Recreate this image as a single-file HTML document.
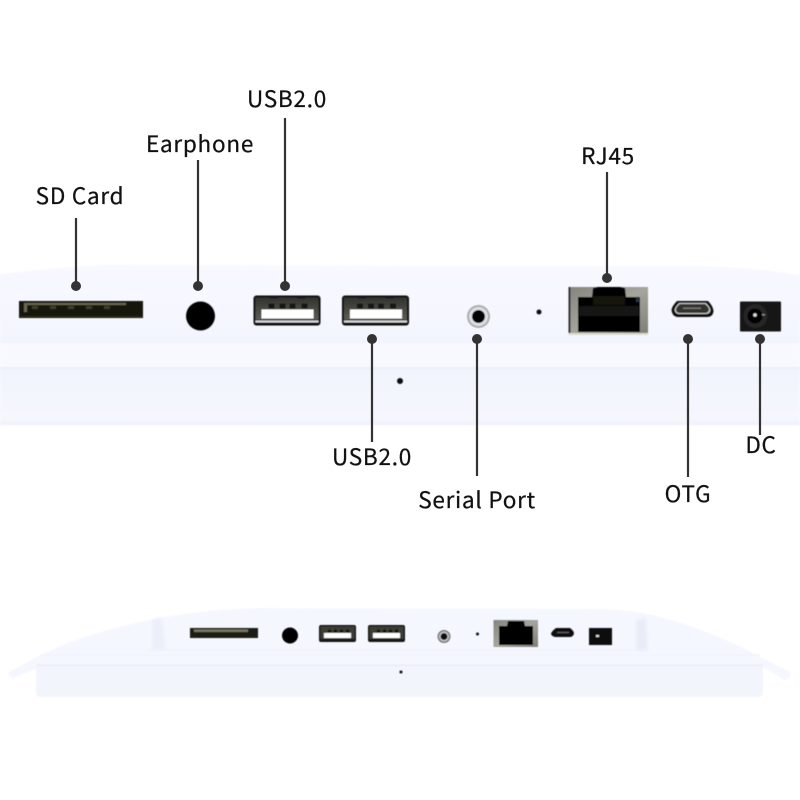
<!DOCTYPE html>
<html><head><meta charset="utf-8"><style>
html,body{margin:0;padding:0;background:#fff}
svg{display:block}
text{font-family:"Noto Sans CJK SC","Liberation Sans",sans-serif;font-size:22.500px;fill:#111;stroke:#111;stroke-width:.25px;text-anchor:middle;letter-spacing:.75px}
</style></head><body>
<svg width="800" height="800" viewBox="0 0 800 800" xmlns="http://www.w3.org/2000/svg">
<defs>
<filter id="s" x="-5%" y="-5%" width="110%" height="110%"><feGaussianBlur stdDeviation=".45"/></filter>
<filter id="s2" x="-10%" y="-10%" width="120%" height="120%"><feGaussianBlur stdDeviation="1.500"/></filter>
<linearGradient id="a" x1="0" y1="0" x2="0" y2="1"><stop offset="0" stop-color="#f8f9ff"/><stop offset="1" stop-color="#f3f5fe"/></linearGradient>
<linearGradient id="b" x1="0" y1="0" x2="0" y2="1"><stop offset="0" stop-color="#f1f4fc"/><stop offset=".88" stop-color="#f5f7fe"/><stop offset="1" stop-color="#eff2fb"/></linearGradient>
<linearGradient id="u" x1="0" y1="0" x2="0" y2="1"><stop offset="0" stop-color="#33332e"/><stop offset="1" stop-color="#5c5c55"/></linearGradient>
<linearGradient id="m" x1="0" y1="0" x2="1" y2="1"><stop offset="0" stop-color="#85857d"/><stop offset=".5" stop-color="#a5a59d"/><stop offset="1" stop-color="#7d7d75"/></linearGradient>
<g id="usb"><rect x="0" y="0" width="67" height="30" rx="3" fill="#111"/><rect x="2" y="2" width="63" height="22" fill="url(#u)"/><rect x="8" y="14" width="52" height="9" fill="#fff"/><g fill="#161614"><rect x="15" y="8" width="6" height="5"/><rect x="26" y="8" width="6" height="5"/><rect x="36" y="8" width="6" height="5"/><rect x="48" y="8" width="6" height="5"/><rect x="16" y="1" width="8" height="2"/><rect x="44" y="1" width="8" height="2"/></g><rect x="2" y="25" width="63" height="2" fill="#d8d8d8"/></g>
<g id="usbs"><rect x="0" y="0" width="37" height="17" rx="2" fill="#181816"/><rect x="1.500" y="1.500" width="34" height="12.500" fill="#3c3c36"/><rect x="5" y="8" width="27" height="5" fill="#fff"/><g fill="#111"><rect x="9" y="4.500" width="3" height="3"/><rect x="15" y="4.500" width="3" height="3"/><rect x="21" y="4.500" width="3" height="3"/><rect x="27" y="4.500" width="3" height="3"/></g></g>
</defs>
<rect width="800" height="800" fill="#fff"/>

<!-- top panel -->
<g filter="url(#s)">
<path d="M0 274 Q50 268 100 265 L700 266 Q760 268 800 275 L800 342 L0 342Z" fill="url(#a)"/>
<rect x="0" y="342" width="800" height="26" fill="#f8f9ff"/>
<rect x="0" y="342" width="800" height="1" fill="#f0f2fa"/>
<rect x="0" y="367" width="800" height="2" fill="#eceff8"/>
<rect x="0" y="369" width="800" height="56" fill="url(#b)"/>
</g>

<g filter="url(#s)">
<!-- SD -->
<rect x="19" y="301" width="124" height="17" fill="#14130b"/>
<rect x="24" y="303" width="102" height="2" fill="#6a6850"/>
<rect x="24" y="305" width="3" height="7" fill="#6a6850"/>
<g fill="#3e3c2b"><rect x="32" y="306" width="6" height="3"/><rect x="50" y="306" width="6" height="3"/><rect x="68" y="306" width="6" height="3"/><rect x="86" y="306" width="6" height="3"/><rect x="104" y="306" width="6" height="3"/></g>
<rect x="20" y="316" width="122" height="1" fill="#30301f"/>
<circle cx="200.500" cy="316" r="14.500" fill="#050505"/>
<use href="#usb" x="253.500" y="295.500"/>
<use href="#usb" x="342" y="295.500"/>

<!-- serial -->
<circle cx="478.500" cy="316.500" r="11.500" fill="#a9abb0"/>
<circle cx="478.500" cy="316.500" r="9.500" fill="#dfe0e5"/>
<circle cx="478.500" cy="316.500" r="6.500" fill="#060606"/>
<circle cx="539" cy="312" r="2.500" fill="#111"/>

<!-- RJ45 -->
<rect x="568.500" y="287" width="79.500" height="48" fill="url(#m)"/>
<rect x="568.500" y="287" width="2" height="48" fill="#333"/>
<rect x="568.500" y="333" width="79.500" height="2" fill="#dadad2"/>
<path d="M578 297 L592 297 L593 288 L598 287 L620 287 L625 288 L626 297 L640 297 L640 332 L578 332Z" fill="#060606"/>
<rect x="579" y="306" width="60" height="10" fill="#141412"/>
<path d="M593 296H625V305H593Z" fill="#121210"/>
<rect x="636" y="298" width="3" height="4" fill="#2a3446"/>

<!-- OTG -->
<path d="M677 301 L708 301 Q713 306 713.500 311 Q713 317 707 317 L677 317 Q672 316 671.500 310 Q672 306 677 301Z" fill="#0c0c0c"/>
<path d="M679 303 L706 303 Q710 307 710.500 310 Q710 314 706 314 L678 314 Q675 313 674.500 310 Q675 307 679 303Z" fill="#c9c9c9"/>
<path d="M680 304 L705 304 Q709 307 709 310 Q708 313 705 313 L679 313 Q676 312 676 310 Q676 307 680 304Z" fill="#33322f"/>
<rect x="683" y="307.500" width="18" height="1.500" fill="#77756f"/>

<!-- DC -->
<rect x="740" y="301.500" width="41" height="30" rx="1" fill="#131313"/>
<circle cx="755.500" cy="316" r="12" fill="#252525"/>
<circle cx="755" cy="316" r="7.500" fill="#040404"/>
<circle cx="755" cy="315" r="1.800" fill="#ddd"/>
<rect x="762" y="314" width="3" height="1.500" fill="#888"/>
<circle cx="400" cy="381" r="3" fill="#111"/>
</g>

<!-- connectors -->
<g stroke="#333" stroke-width="2.200" fill="none">
<path d="M76 218V286M198 160V286M285 118V286M372 339V442M477 339V476M607 172V278M688 339V477M760 339V435"/>
</g>
<g fill="#333">
<circle cx="76" cy="286" r="5"/><circle cx="198" cy="286" r="5"/><circle cx="285" cy="286" r="5"/><circle cx="372" cy="339" r="5"/><circle cx="477" cy="339" r="5"/><circle cx="607" cy="278" r="5"/><circle cx="688" cy="339" r="5"/><circle cx="760" cy="339" r="5"/>
</g>

<!-- labels -->
<text x="80" y="204">SD Card</text>
<text x="200" y="152">Earphone</text>
<text x="287" y="107">USB2.0</text>
<text x="372" y="465">USB2.0</text>
<text x="477" y="508">Serial Port</text>
<text x="608" y="164">RJ45</text>
<text x="688" y="502">OTG</text>
<text x="761" y="453">DC</text>

<!-- bottom panel -->
<g filter="url(#s)">
<path d="M9 672 Q8 677 13 678 L36 669 L36 690 Q36 697 42 697 L756 697 Q763 697 763 690 L763 667 L785 680 Q792 678 790 672 L762 658 C735 642 690 625 667 619 C640 611 620 609 590 609 L260 608 C220 609 190 612 150 620 C110 628 70 640 37 657Z" fill="#f5f7ff"/>
<rect x="36" y="665" width="727" height="32" rx="4" fill="#f3f5fd"/>
<rect x="36" y="664.500" width="727" height="1.500" fill="#e9ecf7"/>
<path d="M40 655 H760" stroke="#f0f2fb" stroke-width="1" fill="none"/>
<path d="M148 650 H648" stroke="#eef0f9" stroke-width="1" fill="none"/>
</g>
<path d="M152 620 L162 617 L166 650 L152 650Z" fill="#eceff9" filter="url(#s2)"/>
<path d="M636 620 L646 618 L648 650 L636 650Z" fill="#e9ecf7" filter="url(#s2)"/>

<g filter="url(#s)">
<rect x="190" y="628" width="68" height="10" fill="#1d1c12"/>
<rect x="194" y="629.500" width="54" height="2.500" fill="#7a7762"/>
<circle cx="290" cy="635.500" r="8" fill="#060606"/>
<use href="#usbs" x="319" y="625"/>
<use href="#usbs" x="368" y="625"/>
<circle cx="444" cy="636.500" r="6.500" fill="#777"/><circle cx="444" cy="636.500" r="5" fill="#ccc"/><circle cx="444" cy="636.500" r="3.500" fill="#111"/>
<circle cx="477.500" cy="634" r="1.500" fill="#111"/>
<rect x="493.500" y="620" width="44.500" height="27" fill="url(#m)"/>
<path d="M499 626 L507 626 L508 621 L524 621 L525 626 L533 626 L533 645 L499 645Z" fill="#050505"/>
<path d="M556 628 L570 628 Q574 631 574 633.500 Q573 637 570 637 L555 637 Q551 636 551 633.500 Q552 631 556 628Z" fill="#111"/>
<rect x="557" y="632" width="12" height="1" fill="#666"/>
<rect x="589" y="628" width="23" height="17" fill="#111"/>
<rect x="596" y="635" width="3" height="2" fill="#ddd"/>
<circle cx="401" cy="672" r="1.500" fill="#111"/>
</g>
</svg>
</body></html>
